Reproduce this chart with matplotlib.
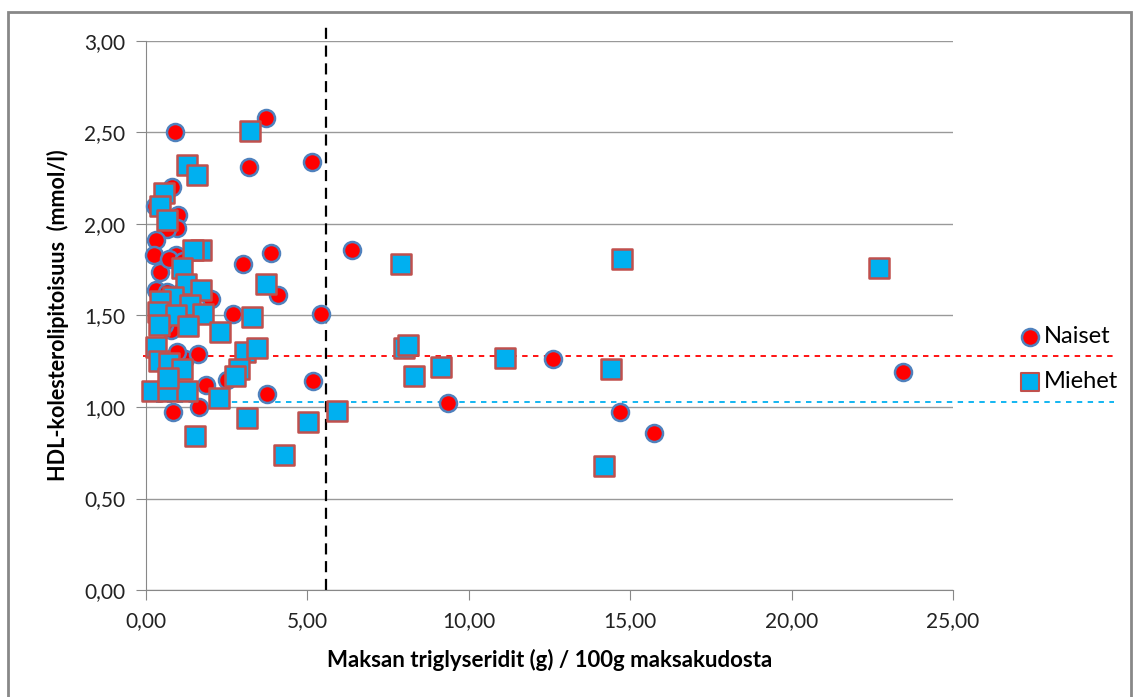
import matplotlib.pyplot as plt
from matplotlib.patches import Rectangle
from matplotlib.ticker import FuncFormatter, MultipleLocator

# Naiset (women): liver triglycerides g/100g vs HDL mmol/l
naiset_x = [0.90, 3.72, 3.19, 5.14, 0.81, 0.28, 0.99, 0.96, 0.65, 0.31, 0.25, 0.93,
            6.38, 3.87, 3.00, 0.43, 0.71, 0.31, 0.65, 1.08, 4.09, 2.01, 2.70, 5.42,
            0.77, 1.21, 1.61, 0.96, 1.86, 3.75, 5.17, 0.84, 1.64, 2.51, 9.36, 12.60,
            14.68, 15.74, 23.45, 0.50, 0.55, 1.15]
naiset_y = [2.50, 2.58, 2.31, 2.34, 2.20, 2.10, 2.05, 1.98, 1.97, 1.91, 1.83, 1.83,
            1.86, 1.84, 1.78, 1.74, 1.81, 1.64, 1.63, 1.63, 1.61, 1.59, 1.51, 1.51,
            1.42, 1.26, 1.29, 1.30, 1.12, 1.07, 1.14, 0.97, 1.00, 1.15, 1.02, 1.26,
            0.97, 0.86, 1.19, 1.55, 1.45, 1.80]

# Miehet (men)
miehet_x = [3.22, 1.27, 1.58, 0.56, 0.43, 0.65, 1.70, 1.46, 7.90, 14.75, 22.70, 1.12,
            1.24, 3.72, 1.70, 0.84, 0.43, 1.36, 0.37, 0.93, 1.77, 3.28, 0.40, 1.30,
            2.29, 0.31, 0.40, 0.71, 1.12, 3.07, 3.44, 2.88, 2.76, 0.19, 0.68, 1.27,
            2.26, 3.13, 5.02, 5.92, 1.52, 4.27, 7.99, 8.12, 8.30, 9.14, 11.12, 14.41,
            14.19, 0.68]
miehet_y = [2.51, 2.32, 2.27, 2.17, 2.10, 2.02, 1.86, 1.86, 1.78, 1.81, 1.76, 1.76,
            1.67, 1.67, 1.64, 1.60, 1.58, 1.56, 1.52, 1.50, 1.51, 1.49, 1.45, 1.44,
            1.41, 1.33, 1.25, 1.24, 1.21, 1.30, 1.32, 1.21, 1.17, 1.09, 1.09, 1.09,
            1.05, 0.94, 0.92, 0.98, 0.84, 0.74, 1.32, 1.34, 1.17, 1.22, 1.27, 1.21,
            0.68, 1.16]

naiset_ka = 1.28   # mean HDL, women
miehet_ka = 1.03   # mean HDL, men
raja_tg = 5.58     # triglyceride cut-off

plt.rcParams['font.family'] = ['Lato', 'DejaVu Sans']

fig = plt.figure(figsize=(11.34, 6.97), dpi=100)
fig.patches.append(Rectangle((0.007, -0.01), 0.99, 0.993, transform=fig.transFigure,
                             fill=False, edgecolor='#888888', linewidth=2))
ax = fig.add_axes([0.1287, 0.1535, 0.7117, 0.7877])

ax.scatter(naiset_x, naiset_y, s=150, marker='o', facecolor='#FF0000',
           edgecolor='#4F81BD', linewidth=1.8, zorder=3, clip_on=False)
ax.scatter(miehet_x, miehet_y, s=190, marker='s', facecolor='#00B0F0',
           edgecolor='#C0504D', linewidth=1.8, zorder=4, clip_on=False)

ax.plot([-0.1, 30.0], [naiset_ka, naiset_ka], color='#FF0000', linestyle=(0, (3, 3)),
        linewidth=1.3, clip_on=False, zorder=2)
ax.plot([0.3, 30.0], [miehet_ka, miehet_ka], color='#00B0F0', linestyle=(0, (3, 3)),
        linewidth=1.3, clip_on=False, zorder=2)
ax.plot([raja_tg, raja_tg], [0, 3.09], color='black', linestyle=(0, (5, 3)),
        linewidth=1.6, clip_on=False, zorder=2)

ax.set_xlim(0, 25)
ax.set_ylim(0, 3)
ax.xaxis.set_major_locator(MultipleLocator(5))
ax.yaxis.set_major_locator(MultipleLocator(0.5))
pilkku = FuncFormatter(lambda v, p: f'{v:.2f}'.replace('.', ','))
ax.xaxis.set_major_formatter(pilkku)
ax.yaxis.set_major_formatter(pilkku)
ax.grid(axis='y', color='#999999', linewidth=1)
ax.set_axisbelow(True)
for s in ['top', 'right']:
    ax.spines[s].set_visible(False)
for s in ['left', 'bottom']:
    ax.spines[s].set_color('#888888')
ax.tick_params(axis='both', colors='#888888', labelcolor='#222222', labelsize=15,
               length=7, direction='out')
ax.tick_params(axis='y', pad=8)
ax.tick_params(axis='x', pad=8)

ax.set_xlabel('Maksan triglyseridit (g) / 100g maksakudosta', fontsize=16,
              fontweight='bold')
ax.set_ylabel('HDL-kolesterolipitoisuus  (mmol/l)', fontsize=15.5,
              fontweight='bold')
ax.xaxis.set_label_coords(0.5, -0.108)
ax.yaxis.set_label_coords(-0.095, 0.5)

# legend drawn by hand to the right of the plot
ax.scatter([27.39], [1.383], s=150, marker='o', facecolor='#FF0000',
           edgecolor='#4F81BD', linewidth=1.8, clip_on=False)
ax.text(27.8, 1.383, 'Naiset', fontsize=17, va='center', ha='left')
ax.scatter([27.39], [1.137], s=170, marker='s', facecolor='#00B0F0',
           edgecolor='#C0504D', linewidth=1.5, clip_on=False)
ax.text(27.8, 1.137, 'Miehet', fontsize=17, va='center', ha='left')

fig.savefig('out.png', dpi=100)
